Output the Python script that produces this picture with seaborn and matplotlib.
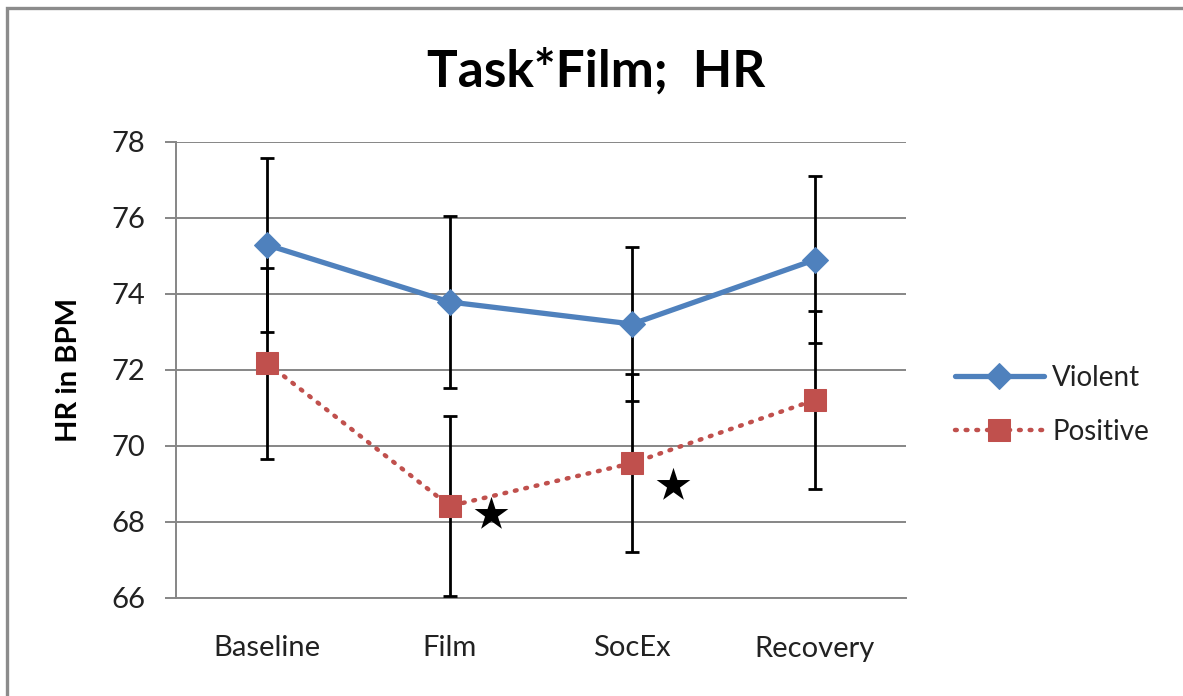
import numpy as np
import pandas as pd
import matplotlib
matplotlib.use("Agg")
import matplotlib.pyplot as plt
from matplotlib.patches import Rectangle
import seaborn as sns

# Heart-rate means (BPM) and error-bar half-widths per task phase
phases = ["Baseline", "Film", "SocEx", "Recovery"]
violent_hr = [75.29, 73.79, 73.21, 74.90]
violent_err = [2.29, 2.26, 2.02, 2.20]
positive_hr = [72.18, 68.42, 69.55, 71.21]
positive_err = [2.51, 2.37, 2.34, 2.34]
# Significance stars next to the Positive series
star_phases = ["Film", "SocEx"]
star_levels = [68.22, 68.98]

sns.set_theme(style="white")
plt.rcParams["font.family"] = ["Lato", "DejaVu Sans"]

df = pd.DataFrame({
    "phase": phases * 2,
    "pos": list(range(len(phases))) * 2,
    "hr": violent_hr + positive_hr,
    "err": violent_err + positive_err,
    "group": ["Violent"] * len(phases) + ["Positive"] * len(phases),
})

colors = {"Violent": "#4F81BD", "Positive": "#C0504D"}

fig = plt.figure(figsize=(11.83, 6.96), dpi=100)
ax = fig.add_axes([176 / 1183, 1 - 598 / 696, 730 / 1183, 456 / 696])

# Error bars first so lines and markers sit on top
for grp in ["Violent", "Positive"]:
    sub = df[df["group"] == grp]
    ax.errorbar(sub["pos"], sub["hr"], yerr=sub["err"], fmt="none",
                ecolor="black", elinewidth=2.0, capsize=5, capthick=2.0, zorder=3)

sns.lineplot(data=df[df["group"] == "Violent"], x="pos", y="hr", ax=ax,
             color=colors["Violent"], linewidth=3.8, marker="D", markersize=13,
             markeredgecolor=colors["Violent"], label="Violent", zorder=4)
sns.lineplot(data=df[df["group"] == "Positive"], x="pos", y="hr", ax=ax,
             color=colors["Positive"], linewidth=3.2, linestyle=(0, (0.4, 2.0)),
             marker="s", markersize=16,
             markeredgecolor=colors["Positive"], label="Positive", zorder=4)
for line in ax.get_lines():
    line.set_dash_capstyle("round")

star_x = [phases.index(p) + 0.225 for p in star_phases]
ax.scatter(star_x, star_levels, marker="*", s=650, color="black", zorder=5, linewidths=0)

ax.set_xlim(-0.5, len(phases) - 0.5)
ax.set_ylim(66, 78)
ax.set_yticks(np.arange(66, 79, 2))
ax.set_xticks(range(len(phases)))
ax.set_xticklabels(phases)
ax.set_xticks(np.arange(-0.5, len(phases), 1.0), minor=True)
ax.tick_params(axis="x", which="major", length=0, pad=27, labelsize=21, labelcolor="#222222")
ax.tick_params(axis="x", which="minor", length=7, width=1.4, color="#868686", direction="out")
ax.tick_params(axis="y", length=8, width=1.4, color="#868686", direction="out",
               pad=14, labelsize=21, labelcolor="#222222", left=True)
ax.grid(axis="y", color="#868686", linewidth=1.4)
ax.grid(axis="x", visible=False)
ax.set_axisbelow(True)
for side in ["top", "right"]:
    ax.spines[side].set_visible(False)
for side in ["left", "bottom"]:
    ax.spines[side].set_color("#868686")
    ax.spines[side].set_linewidth(1.4)

ax.set_xlabel("")
ax.set_ylabel("HR in BPM", fontsize=21, fontweight="bold", labelpad=21, color="black")

fig.suptitle("Task*Film;  HR", x=596 / 1183, y=1 - 72 / 696, va="center",
             fontsize=37, fontweight="bold", color="black")

handles, labels = ax.get_legend_handles_labels()
leg = ax.legend(handles, labels, loc="center left", bbox_to_anchor=(930 / 1183, 1 - 405 / 696),
                bbox_transform=fig.transFigure, frameon=False, fontsize=20,
                handlelength=3.2, labelspacing=1.0, handletextpad=0.3)
for txt in leg.get_texts():
    txt.set_color("#222222")

# Outer chart-area frame
fig.patches.append(Rectangle((7 / 1183, -0.05), 1.2, 1 - 8.5 / 696 + 0.05,
                             transform=fig.transFigure, fill=False,
                             edgecolor="#8c8c8c", linewidth=2.4))

fig.savefig("out.png", dpi=100)
